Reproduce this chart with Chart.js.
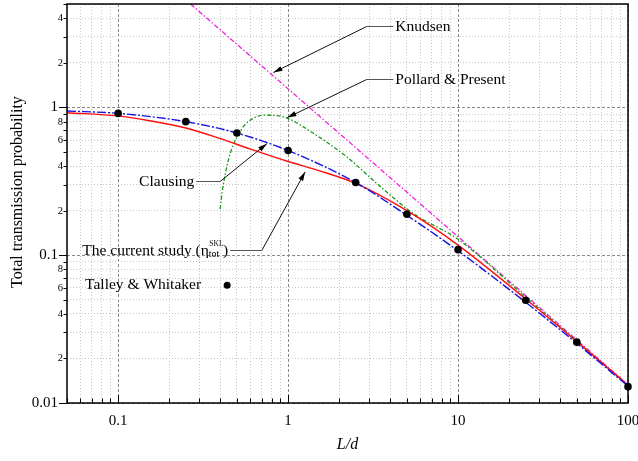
<!DOCTYPE html>
<html>
<head>
<meta charset="utf-8">
<script src="https://cdn.jsdelivr.net/npm/chart.js@4.4.1/dist/chart.umd.min.js"></script>
<style>
html, body { margin: 0; padding: 0; background: #fff; }
</style>
</head>
<body>
<canvas id="grafica" width="638" height="461"></canvas>
<script>
// valores (L/d, probabilidad)
var ld_talley = [0.1, 0.25, 0.5, 1, 2.5, 5, 10, 25, 50, 100];
var p_talley  = [0.91, 0.80, 0.67, 0.51, 0.31, 0.189, 0.109, 0.0495, 0.0258, 0.0129];

var ld_knudsen = [0.2667, 1, 10, 100];
var p_knudsen  = [5, 1.333, 0.1333, 0.01333];

var ld_pollard = [0.398, 0.41, 0.43, 0.46, 0.5, 0.55, 0.62, 0.72, 0.85, 1.0, 1.4, 2.2, 3.5, 5.5, 10, 25, 50, 100];
var p_pollard  = [0.205, 0.27, 0.37, 0.5, 0.63, 0.75, 0.84, 0.885, 0.88, 0.84, 0.67, 0.465, 0.29, 0.19, 0.128, 0.052, 0.0262, 0.0132];

var ld_rojo = [0.05, 0.1, 0.15, 0.25, 0.4, 0.6, 1, 1.5, 2.5, 5, 10, 25, 50, 100];
var p_rojo  = [0.92, 0.875, 0.815, 0.725, 0.614, 0.522, 0.43, 0.375, 0.306, 0.2, 0.117, 0.0505, 0.026, 0.0132];

var ld_azul = [0.05, 0.1, 0.25, 0.5, 1, 2.5, 5, 10, 25, 50, 100];
var p_azul  = [0.945, 0.91, 0.8, 0.67, 0.51, 0.31, 0.186, 0.107, 0.048, 0.0253, 0.013];

// marcas de los ejes
var x_ticks = [0.05, 0.06, 0.07, 0.08, 0.09, 0.1, 0.2, 0.3, 0.4, 0.5, 0.6, 0.7, 0.8, 0.9,
	1, 2, 3, 4, 5, 6, 7, 8, 9, 10, 20, 30, 40, 50, 60, 70, 80, 90, 100];
var x_mayores = [0.1, 1, 10, 100];
var x_etiquetas = ["0.1", "1", "10", "100"];

var y_ticks = [0.01, 0.02, 0.03, 0.04, 0.05, 0.06, 0.07, 0.08, 0.09, 0.1, 0.2, 0.3, 0.4, 0.5,
	0.6, 0.7, 0.8, 0.9, 1, 2, 3, 4, 5];
var y_mayores = [0.01, 0.1, 1];
var y_etiquetas_mayores = ["0.01", "0.1", "1"];
var y_menores = [0.02, 0.04, 0.06, 0.08, 0.2, 0.4, 0.6, 0.8, 2, 4];
var y_etiquetas_menores = ["2", "4", "6", "8", "2", "4", "6", "8", "2", "4"];

// anotaciones en coordenadas de datos: punta de flecha, codo y fin del trazo horizontal
var anotaciones = [
	{ texto: "Knudsen", punta: [0.82, 1.72], codo: [2.9, 3.53], fin: [4.16, 3.53], lado: "der" },
	{ texto: "Pollard & Present", punta: [0.99, 0.852], codo: [2.9, 1.546], fin: [4.16, 1.546], lado: "der" },
	{ texto: "Clausing", punta: [0.75, 0.568], codo: [0.398, 0.317], fin: [0.288, 0.317], lado: "izq" },
	{ texto: "The current study (η", punta: [1.26, 0.366], codo: [0.70, 0.109], fin: [0.456, 0.109], lado: "izq", eta: true }
];
var leyenda_talley = { texto: "Talley & Whitaker", pos: [0.0639, 0.0627], punto: [0.438, 0.0627] };

var FUENTE = "'Liberation Serif', 'Times New Roman', serif";

function puntos(xs, ys) {
	return xs.map(function (v, i) { return { x: v, y: ys[i] }; });
}

function esMayor(lista, v) {
	for (var i = 0; i < lista.length; i++) {
		if (Math.abs(lista[i] - v) < 1e-9) return i;
	}
	return -1;
}

function esDecada(v) {
	var l = Math.log10(v);
	return Math.abs(l - Math.round(l)) < 1e-6;
}

function dibujaFlecha(ctx, x0, y0, x1, y1) {
	ctx.beginPath(); ctx.moveTo(x0, y0); ctx.lineTo(x1, y1); ctx.stroke();
	var ang = Math.atan2(y1 - y0, x1 - x0), lon = 9, an = 2.6;
	var c = Math.cos(ang), s = Math.sin(ang);
	ctx.beginPath();
	ctx.moveTo(x1, y1);
	ctx.lineTo(x1 - lon * c + an * s, y1 - lon * s - an * c);
	ctx.lineTo(x1 - lon * c - an * s, y1 - lon * s + an * c);
	ctx.closePath();
	ctx.fill();
}

var plugin_extras = {
	id: "extras",
	afterDraw: function (chart) {
		var ctx = chart.ctx, a = chart.chartArea;
		var sx = chart.scales.x, sy = chart.scales.y;
		ctx.save();

		// marcas del eje y (hacia fuera) y sus etiquetas
		ctx.strokeStyle = "#000";
		ctx.lineWidth = 1;
		ctx.fillStyle = "#000";
		ctx.textBaseline = "middle";
		ctx.textAlign = "right";
		y_ticks.forEach(function (v) {
			var py = Math.round(sy.getPixelForValue(v)) + 0.5;
			var lon = esDecada(v) ? 8 : 3.5;
			ctx.beginPath(); ctx.moveTo(a.left - lon, py); ctx.lineTo(a.left, py); ctx.stroke();
			var im = esMayor(y_mayores, v);
			if (im >= 0) {
				ctx.font = "15px " + FUENTE;
				ctx.fillText(y_etiquetas_mayores[im], a.left - 9, py);
			}
			var in_ = esMayor(y_menores, v);
			if (in_ >= 0) {
				ctx.font = "10.5px " + FUENTE;
				ctx.fillText(y_etiquetas_menores[in_], a.left - 4, py);
			}
		});

		// marcas del eje x (hacia dentro)
		x_ticks.forEach(function (v) {
			var px = Math.round(sx.getPixelForValue(v)) + 0.5;
			var lon = esDecada(v) ? 8 : 4.5;
			ctx.beginPath(); ctx.moveTo(px, a.bottom); ctx.lineTo(px, a.bottom - lon); ctx.stroke();
		});

		// marco
		ctx.lineWidth = 1.5;
		ctx.strokeRect(a.left, a.top, a.right - a.left, a.bottom - a.top);

		// titulos de los ejes
		ctx.textAlign = "center";
		ctx.textBaseline = "middle";
		ctx.font = "italic 16px " + FUENTE;
		ctx.fillText("L/d", (a.left + a.right) / 2, 445);
		ctx.save();
		ctx.translate(18, 192);
		ctx.rotate(-Math.PI / 2);
		ctx.font = "16px " + FUENTE;
		ctx.fillText("Total transmission probability", 0, 0);
		ctx.restore();

		// anotaciones
		ctx.lineWidth = 1;
		ctx.fillStyle = "#000";
		anotaciones.forEach(function (an) {
			var tx = sx.getPixelForValue(an.punta[0]), ty = sy.getPixelForValue(an.punta[1]);
			var cx = sx.getPixelForValue(an.codo[0]), cy = Math.round(sy.getPixelForValue(an.codo[1])) + 0.5;
			var fx = sx.getPixelForValue(an.fin[0]);
			ctx.strokeStyle = "#555";
			ctx.beginPath(); ctx.moveTo(cx, cy); ctx.lineTo(fx, cy); ctx.stroke();
			ctx.strokeStyle = "#111";
			dibujaFlecha(ctx, cx, cy, tx, ty);
			ctx.font = "15.5px " + FUENTE;
			ctx.textBaseline = "middle";
			if (an.lado === "der") {
				ctx.textAlign = "left";
				ctx.fillText(an.texto, fx + 2, cy);
			} else if (!an.eta) {
				ctx.textAlign = "right";
				ctx.fillText(an.texto, fx - 2, cy);
			} else {
				// texto con superindice y subindice
				var w1 = ctx.measureText(an.texto).width;
				var wpar = ctx.measureText(")").width;
				ctx.font = "7.5px " + FUENTE;
				var wsup = ctx.measureText("SKL").width;
				ctx.font = "10px " + FUENTE;
				var wsub = ctx.measureText("tot").width;
				var wind = Math.max(wsup, wsub);
				var x0 = fx - 2 - (w1 + wind + wpar);
				ctx.textAlign = "left";
				ctx.font = "15.5px " + FUENTE;
				ctx.fillText(an.texto, x0, cy);
				ctx.font = "7.5px " + FUENTE;
				ctx.fillText("SKL", x0 + w1 + 0.5, cy - 6);
				ctx.font = "10px " + FUENTE;
				ctx.fillText("tot", x0 + w1, cy + 4);
				ctx.font = "15.5px " + FUENTE;
				ctx.fillText(")", x0 + w1 + wind, cy);
			}
		});

		// leyenda de Talley & Whitaker
		var lx = sx.getPixelForValue(leyenda_talley.pos[0]);
		var ly = sy.getPixelForValue(leyenda_talley.pos[1]);
		ctx.textAlign = "left";
		ctx.font = "15.5px " + FUENTE;
		ctx.fillText(leyenda_talley.texto, lx, ly);
		ctx.beginPath();
		ctx.arc(sx.getPixelForValue(leyenda_talley.punto[0]), ly, 3.5, 0, Math.PI * 2);
		ctx.fill();

		ctx.restore();
	}
};

var canvas = document.getElementById("grafica");

new Chart(canvas, {
	type: "line",
	data: {
		datasets: [
			{
				label: "Talley & Whitaker",
				data: puntos(ld_talley, p_talley),
				showLine: false,
				pointRadius: 3.8,
				pointBackgroundColor: "#000",
				pointBorderColor: "#000",
				pointBorderWidth: 0,
				clip: false
			},
			{
				label: "azul",
				data: puntos(ld_azul, p_azul),
				borderColor: "#1414e6",
				borderWidth: 1.4,
				borderDash: [9, 2, 2, 2],
				pointRadius: 0,
				fill: false,
				cubicInterpolationMode: "monotone"
			},
			{
				label: "rojo",
				data: puntos(ld_rojo, p_rojo),
				borderColor: "#ff1010",
				borderWidth: 1.4,
				pointRadius: 0,
				fill: false,
				cubicInterpolationMode: "monotone"
			},
			{
				label: "Pollard & Present",
				data: puntos(ld_pollard, p_pollard),
				borderColor: "#1a9a1a",
				borderWidth: 1.3,
				borderDash: [4, 2, 1.5, 2],
				pointRadius: 0,
				fill: false,
				cubicInterpolationMode: "monotone"
			},
			{
				label: "Knudsen",
				data: puntos(ld_knudsen, p_knudsen),
				borderColor: "#ee22dd",
				borderWidth: 1.3,
				borderDash: [5, 2, 1.5, 2],
				pointRadius: 0,
				fill: false
			}
		]
	},
	options: {
		responsive: false,
		animation: false,
		events: [],
		layout: { padding: { left: 0, right: 10, top: 4, bottom: 0 } },
		plugins: {
			legend: { display: false },
			tooltip: { enabled: false }
		},
		scales: {
			x: {
				type: "logarithmic",
				min: 0.05,
				max: 100,
				afterBuildTicks: function (scale) {
					scale.ticks = x_ticks.map(function (v) { return { value: v }; });
				},
				afterFit: function (scale) {
					scale.height = 58;
					scale.paddingLeft = 0;
					scale.paddingRight = 0;
				},
				ticks: {
					autoSkip: false,
					maxRotation: 0,
					padding: 9,
					color: "#000",
					font: { family: FUENTE, size: 15 },
					callback: function (v) {
						var i = esMayor(x_mayores, v);
						return i >= 0 ? x_etiquetas[i] : "";
					}
				},
				grid: {
					drawTicks: false,
					lineWidth: 1,
					color: function (c) {
						return c.tick && esDecada(c.tick.value) ? "#8a8a8a" : "#c6c6c6";
					}
				},
				border: {
					display: false,
					dash: function (c) {
						return c.tick && esDecada(c.tick.value) ? [3, 2] : [1, 2];
					}
				}
			},
			y: {
				type: "logarithmic",
				min: 0.01,
				max: 5,
				afterBuildTicks: function (scale) {
					scale.ticks = y_ticks.map(function (v) { return { value: v }; });
				},
				afterFit: function (scale) {
					scale.width = 67;
					scale.paddingTop = 0;
					scale.paddingBottom = 0;
				},
				ticks: { display: false },
				grid: {
					drawTicks: false,
					lineWidth: 1,
					color: function (c) {
						return c.tick && esDecada(c.tick.value) ? "#8a8a8a" : "#c6c6c6";
					}
				},
				border: {
					display: false,
					dash: function (c) {
						return c.tick && esDecada(c.tick.value) ? [3, 2] : [1, 2];
					}
				}
			}
		}
	},
	plugins: [plugin_extras]
});
</script>
</body>
</html>
